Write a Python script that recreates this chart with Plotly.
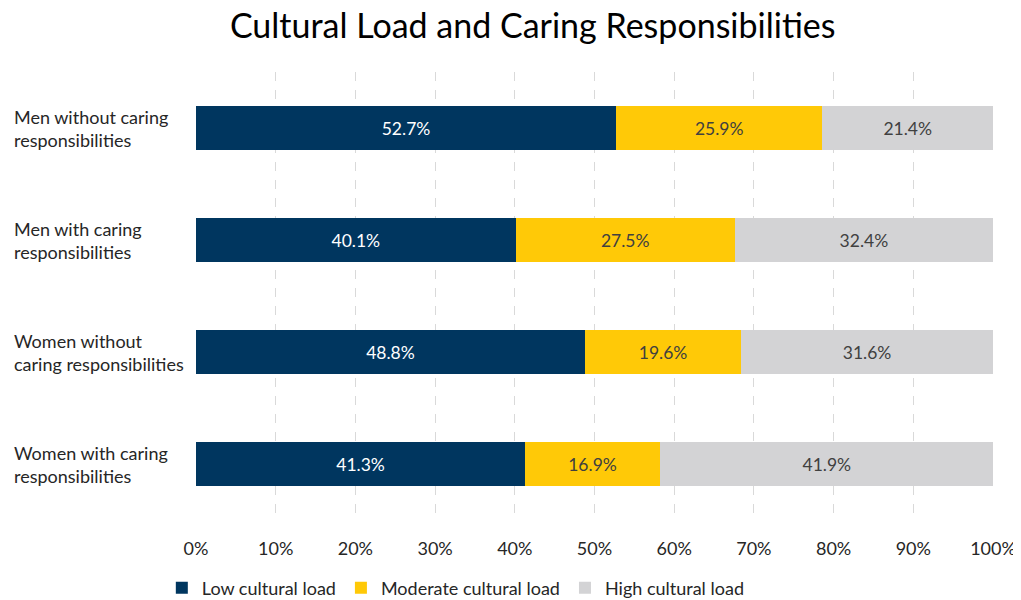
import plotly.graph_objects as go

categories = [
    "Men without caring<br>responsibilities",
    "Men with caring<br>responsibilities",
    "Women without<br>caring responsibilities",
    "Women with caring<br>responsibilities",
]
low = [52.7, 40.1, 48.8, 41.3]
moderate = [25.9, 27.5, 19.6, 16.9]
high = [21.4, 32.4, 31.6, 41.9]
tick_vals = [0, 10, 20, 30, 40, 50, 60, 70, 80, 90, 100]
tick_text = ["0%", "10%", "20%", "30%", "40%", "50%", "60%", "70%", "80%", "90%", "100%"]

FONT = "Lato, Carlito, Calibri, sans-serif"

series = [
    ("Low cultural load", low, "#00365F", "white"),
    ("Moderate cultural load", moderate, "#FFC907", "#404040"),
    ("High cultural load", high, "#D3D3D5", "#404040"),
]

fig = go.Figure()
for name, vals, color, txtcolor in series:
    fig.add_trace(go.Bar(
        y=categories,
        x=vals,
        name=name,
        orientation="h",
        marker=dict(color=color, line=dict(width=0)),
        text=[f"{v:.1f}%" for v in vals],
        textposition="inside",
        insidetextanchor="middle",
        textfont=dict(color=txtcolor, size=17.5, family=FONT),
        hoverinfo="skip",
    ))

for c in categories:
    fig.add_annotation(
        x=0, xref="paper", xshift=-184, y=c, yref="y",
        text=c, showarrow=False, xanchor="left", align="left",
        font=dict(size=18, color="#262626", family=FONT),
    )

# page body has an 8px margin, so the figure is sized to fit the window
fig.update_layout(
    barmode="stack",
    bargap=0.6,
    width=1013,
    height=592,
    margin=dict(l=188, r=28, t=64, b=80, autoexpand=False),
    plot_bgcolor="white",
    paper_bgcolor="white",
    title=dict(
        text="Cultural Load and Caring Responsibilities",
        x=0.518, xanchor="center", y=0.969, yanchor="middle",
        font=dict(size=34, color="#000000", family=FONT),
    ),
    font=dict(family=FONT, size=18, color="#262626"),
    legend=dict(
        orientation="h", x=0.326, xanchor="center",
        yref="container", y=0.02, yanchor="middle",
        font=dict(size=18, color="#262626", family=FONT),
        traceorder="normal", itemwidth=30,
    ),
    showlegend=True,
)
fig.update_xaxes(
    range=[0, 100], tickvals=tick_vals, ticktext=tick_text,
    showgrid=True, gridcolor="#D9D9D9", griddash="dash", gridwidth=1,
    zeroline=False, showline=False, ticks="", tickfont=dict(size=18),
    automargin=False, ticklabelstandoff=16,
)
fig.update_yaxes(
    autorange="reversed", showticklabels=False, showgrid=False,
    zeroline=False, showline=False, ticks="", automargin=False,
)

fig.write_html("out.html")
